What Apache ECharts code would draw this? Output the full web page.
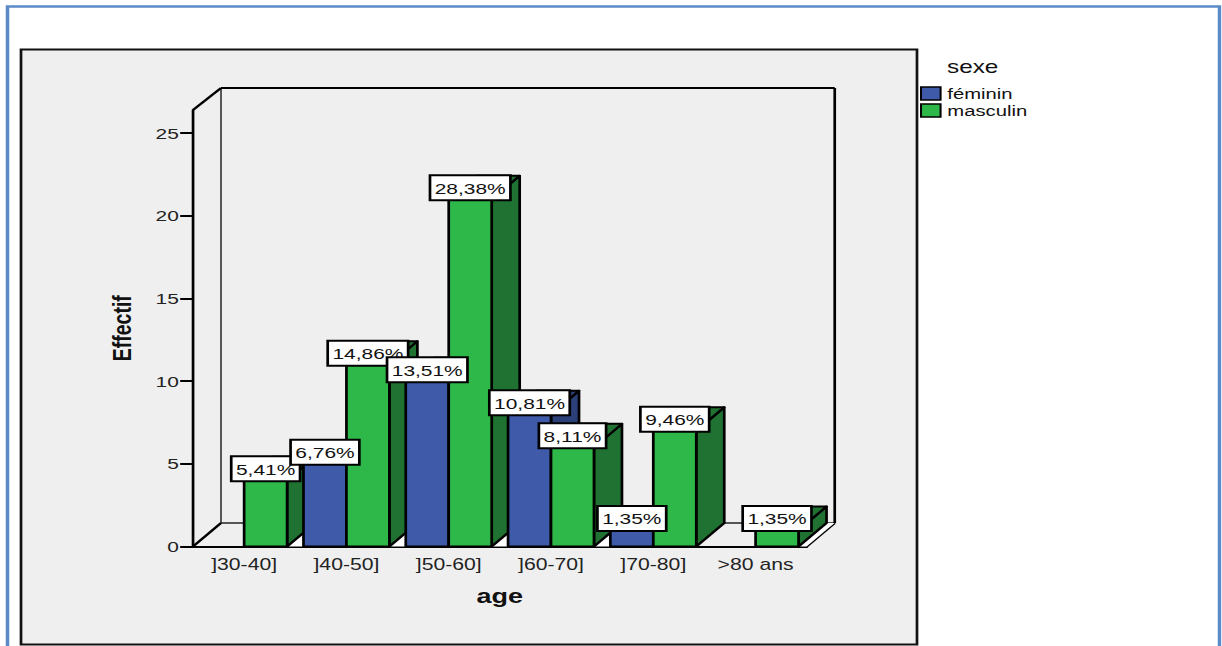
<!DOCTYPE html>
<html>
<head>
<meta charset="utf-8">
<style>
  html, body { margin: 0; padding: 0; background: #fff; overflow: hidden; }
  #chart { width: 905.2px; height: 646px; transform: scaleX(1.35); transform-origin: 0 0; }
</style>
<script src="https://cdn.jsdelivr.net/npm/echarts@6/dist/echarts.min.js"></script>
</head>
<body>
<div id="chart"></div>
<script>
// Age groups split by sex, drawn as extruded bars inside a box-shaped plot.
const categories = [']30-40]', ']40-50]', ']50-60]', ']60-70]', ']70-80]', '>80 ans'];
const feminin = [null, 5, 10, 8, 1, null];
const masculin = [4, 11, 21, 6, 7, 1];
const femininLabels = [null, '6,76%', '13,51%', '10,81%', '1,35%', null];
const masculinLabels = ['5,41%', '14,86%', '28,38%', '8,11%', '9,46%', '1,35%'];
const valueTicks = [0, 5, 10, 15, 20, 25];
const axisTop = 26.4;

const FONT = '"Liberation Sans", Arial, sans-serif';
const STRETCH = 1.35;           // horizontal scale of the whole drawing
const px = v => v / STRETCH;    // page pixels to chart units, horizontally
const DX = px(28), DY = 23.5;   // depth of the box and of every bar
const INK = '#000';
const BLUE = { front: '#3f5aa9', dark: '#2b3f78' };
const GREEN = { front: '#2eb849', dark: '#1f7231' };

function poly(points, fill, z2, lineWidth) {
  return {
    type: 'polygon', z2,
    shape: { points },
    style: { fill, stroke: INK, lineWidth: lineWidth === undefined ? 2 : lineWidth, lineJoin: 'round' }
  };
}
function seg(x1, y1, x2, y2, lineWidth, stroke) {
  return {
    type: 'line', z2: 1,
    shape: { x1, y1, x2, y2 },
    style: { stroke: stroke || INK, lineWidth, fill: null }
  };
}

// Walls and floor of the plot box.
function renderBox(params, api) {
  const o = api.coord([0, 0]);
  const left = params.coordSys.x, right = left + params.coordSys.width;
  const base = o[1], top = api.coord([0, axisTop])[1];
  const wallTop = top - 22;
  return {
    type: 'group',
    children: [
      seg(left + DX, wallTop, left + DX, base - DY, 1.2, '#333'),
      seg(left + DX, base - DY, right + DX, base - DY, 1.4, '#222'),
      seg(left, top, left + DX, wallTop, 2),
      seg(left + DX, wallTop, right + DX, wallTop, 2),
      seg(right + DX, wallTop, right + DX, base - DY, 2),
      seg(left, base, left + DX, base - DY, 2),
      seg(right, base, right + DX, base - DY, 2)
    ]
  };
}

function barRenderer(values, labels, colors, side) {
  return function (params, api) {
    const cat = api.value(0), val = api.value(1);
    if (isNaN(val)) return;
    const band = api.size([1, 0])[0];
    const w = band * 0.42;
    const c = api.coord([cat, 0]);
    const t = api.coord([cat, val]);
    const x0 = side < 0 ? c[0] - w : c[0], x1 = x0 + w;
    const y0 = c[1], y1 = t[1];
    const z = 10 + cat * 4 + (side < 0 ? 0 : 2);
    const kids = [];
    // pale patch of floor beside a male bar, where the extrusion leaves a gap
    if (side > 0 && (cat === categories.length - 1 || feminin[cat + 1] !== null)) {
      const gap = cat === categories.length - 1 ? px(8) : band - 2 * w;
      kids.push({
        type: 'polygon', z2: z - 1,
        shape: { points: [[x1, y0], [x1 + gap, y0], [x1 + gap + DX, y0 - DY], [x1 + DX, y0 - DY]] },
        style: { fill: '#fff', stroke: null }
      });
    }
    kids.push(poly([[x1, y0], [x1 + DX, y0 - DY], [x1 + DX, y1 - DY], [x1, y1]], colors.dark, z));
    kids.push(poly([[x0, y1], [x1, y1], [x1 + DX, y1 - DY], [x0 + DX, y1 - DY]], colors.dark, z));
    kids.push(poly([[x0, y0], [x1, y0], [x1, y1], [x0, y1]], colors.front, z + 1));
    kids.push({
      type: 'text', z2: 100 + z,
      x: (x0 + x1) / 2, y: y1,
      style: {
        text: labels[cat],
        align: 'center', verticalAlign: 'bottom',
        textAlign: 'center', textVerticalAlign: 'bottom',
        font: '15.5px ' + FONT,
        fill: '#111',
        backgroundColor: '#fff',
        borderColor: INK, borderWidth: 2,
        padding: [4, 2.5, 3, 2.5]
      }
    });
    return { type: 'group', children: kids };
  };
}

function rows(values) { return values.map((v, i) => [i, v]); }

const chart = echarts.init(document.getElementById('chart'), null, { renderer: 'svg' });
chart.setOption({
  animation: false,
  backgroundColor: '#fff',
  textStyle: { fontFamily: FONT },
  grid: { left: px(193), right: 905.2 - px(807), top: 110, bottom: 99.5, containLabel: false },
  xAxis: {
    type: 'category',
    data: categories,
    name: 'age',
    nameLocation: 'middle',
    nameGap: 39,
    nameTextStyle: { fontFamily: FONT, fontSize: 20, fontWeight: 'bold', color: '#111' },
    axisLine: { lineStyle: { color: INK, width: 2 } },
    axisTick: { alignWithLabel: true, length: 8, lineStyle: { color: INK, width: 2 } },
    axisLabel: { fontFamily: FONT, fontSize: 15.7, color: '#222', margin: 10, interval: 0 }
  },
  yAxis: {
    type: 'value',
    min: 0,
    max: axisTop,
    name: 'Effectif',
    nameLocation: 'middle',
    nameGap: 42.5,
    nameTextStyle: { fontFamily: FONT, fontSize: 19.5, fontWeight: 'bold', color: '#111' },
    splitLine: { show: false },
    axisLine: { show: true, lineStyle: { color: INK, width: 2 } },
    axisTick: { show: true, length: 9.5, customValues: valueTicks, lineStyle: { color: INK, width: 2 } },
    axisLabel: { customValues: valueTicks, fontFamily: FONT, fontSize: 15.5, color: '#222', margin: 10.5 }
  },
  legend: {
    data: ['féminin', 'masculin'],
    orient: 'vertical',
    left: px(920),
    top: 86,
    icon: 'rect',
    itemWidth: 14.5,
    itemHeight: 13,
    itemGap: 2,
    selectedMode: false,
    padding: 0,
    itemStyle: { borderColor: INK, borderWidth: 1.5 },
    textStyle: { fontFamily: FONT, fontSize: 15, color: '#111' }
  },
  graphic: [
    {
      type: 'rect', z: -20,
      shape: { x: px(7.5), y: 6.5, width: px(1212), height: 660 },
      style: { fill: '#fff', stroke: '#5b8ac8', lineWidth: 2.6 }
    },
    {
      type: 'rect', z: -10,
      shape: { x: px(21), y: 49.5, width: px(896), height: 595 },
      style: { fill: '#efefef', stroke: '#111', lineWidth: 2 }
    },
    {
      type: 'text', z: 5,
      x: px(947), y: 67,
      style: { text: 'sexe', font: '18px ' + FONT, fill: '#111', verticalAlign: 'middle', textVerticalAlign: 'middle' }
    }
  ],
  series: [
    {
      type: 'custom', id: 'box', silent: true,
      renderItem: renderBox,
      data: [[0, 0]],
      encode: { x: 0, y: 1 }
    },
    {
      type: 'custom', name: 'féminin',
      itemStyle: { color: BLUE.front },
      renderItem: barRenderer(feminin, femininLabels, BLUE, -1),
      data: rows(feminin),
      encode: { x: 0, y: 1 }
    },
    {
      type: 'custom', name: 'masculin',
      itemStyle: { color: GREEN.front },
      renderItem: barRenderer(masculin, masculinLabels, GREEN, 1),
      data: rows(masculin),
      encode: { x: 0, y: 1 }
    }
  ]
});
</script>
</body>
</html>
